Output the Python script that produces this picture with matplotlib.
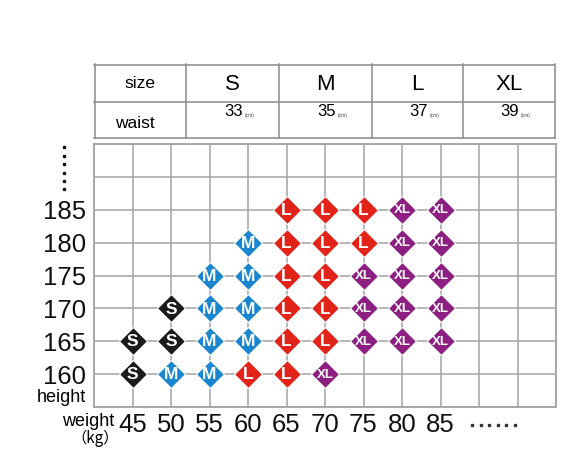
import matplotlib
matplotlib.use("Agg")
import matplotlib.pyplot as plt
from matplotlib.lines import Line2D

# ---- data ----
weights = [45, 50, 55, 60, 65, 70, 75, 80, 85]
heights = [160, 165, 170, 175, 180, 185]
sizes_160 = ["S", "M", "M", "L", "L", "XL", "", "", ""]
sizes_165 = ["S", "S", "M", "M", "L", "L", "XL", "XL", "XL"]
sizes_170 = ["", "S", "M", "M", "L", "L", "XL", "XL", "XL"]
sizes_175 = ["", "", "M", "M", "L", "L", "XL", "XL", "XL"]
sizes_180 = ["", "", "", "M", "L", "L", "L", "XL", "XL"]
sizes_185 = ["", "", "", "", "L", "L", "L", "XL", "XL"]
size_rows = [sizes_160, sizes_165, sizes_170, sizes_175, sizes_180, sizes_185]

size_names = ["S", "M", "L", "XL"]
waist_values = ["33", "35", "37", "39"]
size_colors = {"S": "#1b1b1b", "M": "#1a86cf", "L": "#e2231a", "XL": "#8e1f82"}

W, H = 580, 449
fig = plt.figure(figsize=(W / 100, H / 100), dpi=100)
fig.patch.set_facecolor("white")
FONT = "Liberation Sans"
GRID = "#a3a3a3"

# ---- main grid axes ----
ax = fig.add_axes([94 / W, (H - 407) / H, 462 / W, 263 / H])
ax.set_xlim(40, 100)
ax.set_ylim(155, 195)
xt = list(range(40, 101, 5))
yt = list(range(155, 196, 5))
ax.set_xticks(xt)
ax.set_xticklabels([str(v) if v in weights else "" for v in xt],
                   fontsize=18.5, family=FONT, color="#111111")
ax.set_yticks(yt)
ax.set_yticklabels([str(v) if v in heights else "" for v in yt],
                   fontsize=18.5, family=FONT, color="#111111")
ax.grid(which="major", color=GRID, linewidth=1.1)
ax.tick_params(which="both", length=0)
ax.tick_params(axis="x", pad=4)
ax.tick_params(axis="y", pad=6)
for s in ax.spines.values():
    s.set_color(GRID)
    s.set_linewidth(1.3)
ax.set_axisbelow(True)

for h, row in zip(heights, size_rows):
    for w, sz in zip(weights, row):
        if not sz:
            continue
        ax.plot(w, h, marker="D", ms=14.2, color=size_colors[sz],
                markeredgecolor="white", markeredgewidth=0.8, zorder=3)
        ax.text(w, h - 0.1, sz, ha="center", va="center", color="white",
                fontsize=12.5 if sz != "XL" else 9.5, fontweight="bold",
                family=FONT, zorder=4)

# ---- table axes (pixel coordinates) ----
tx = fig.add_axes([94 / W, (H - 138) / H, (555 - 94) / W, (138 - 64) / H])
tx.set_xlim(94, 555)
tx.set_ylim(138, 64)
tx.axis("off")
TL = "#8a8a8a"
for y in (64.5, 102, 137.5):
    tx.plot([94, 555], [y, y], color=TL, lw=1.1, clip_on=False)
for x in (94.5, 186, 279, 372, 463, 554.5):
    tx.plot([x, x], [64, 138], color=TL, lw=1.1, clip_on=False)
tx.text(140, 84, "size", ha="center", va="center", fontsize=12.5, family=FONT)
tx.text(135, 123, "waist", ha="center", va="center", fontsize=12.5, family=FONT)
col_centers = [232.5, 325.5, 417.5, 509]
for cx, nm, wv in zip(col_centers, size_names, waist_values):
    tx.text(cx, 84, nm, ha="center", va="center", fontsize=16, family=FONT)
    tx.text(cx + 1, 112, wv, ha="center", va="center", fontsize=12, family=FONT)
    tx.text(cx + 12, 115, "(cm)", ha="left", va="center", fontsize=3.5, family=FONT,
            color="#444444")

# ---- decorations ----
fig.add_artist(Line2D([64 / W] * 6, [(H - y) / H for y in (147, 155.5, 164, 172.5, 181, 189)],
                      transform=fig.transFigure, ls="none", marker="s", ms=1.9,
                      color="#111111"))
fig.add_artist(Line2D([x / W for x in (472, 480.5, 489, 497.5, 506, 514.5)], [(H - 425) / H] * 6,
                      transform=fig.transFigure, ls="none", marker="s", ms=1.7,
                      color="#333333"))
fig.text(61 / W, (H - 397) / H, "height", ha="center", va="center", fontsize=13, family=FONT)
fig.text(88 / W, (H - 421) / H, "weight", ha="center", va="center", fontsize=13, family=FONT)
fig.text(95 / W, (H - 438) / H, "（kg）", ha="center", va="center", fontsize=11,
         family=["Noto Sans CJK SC", "DejaVu Sans"])

fig.savefig("out.png", dpi=100, facecolor="white")
